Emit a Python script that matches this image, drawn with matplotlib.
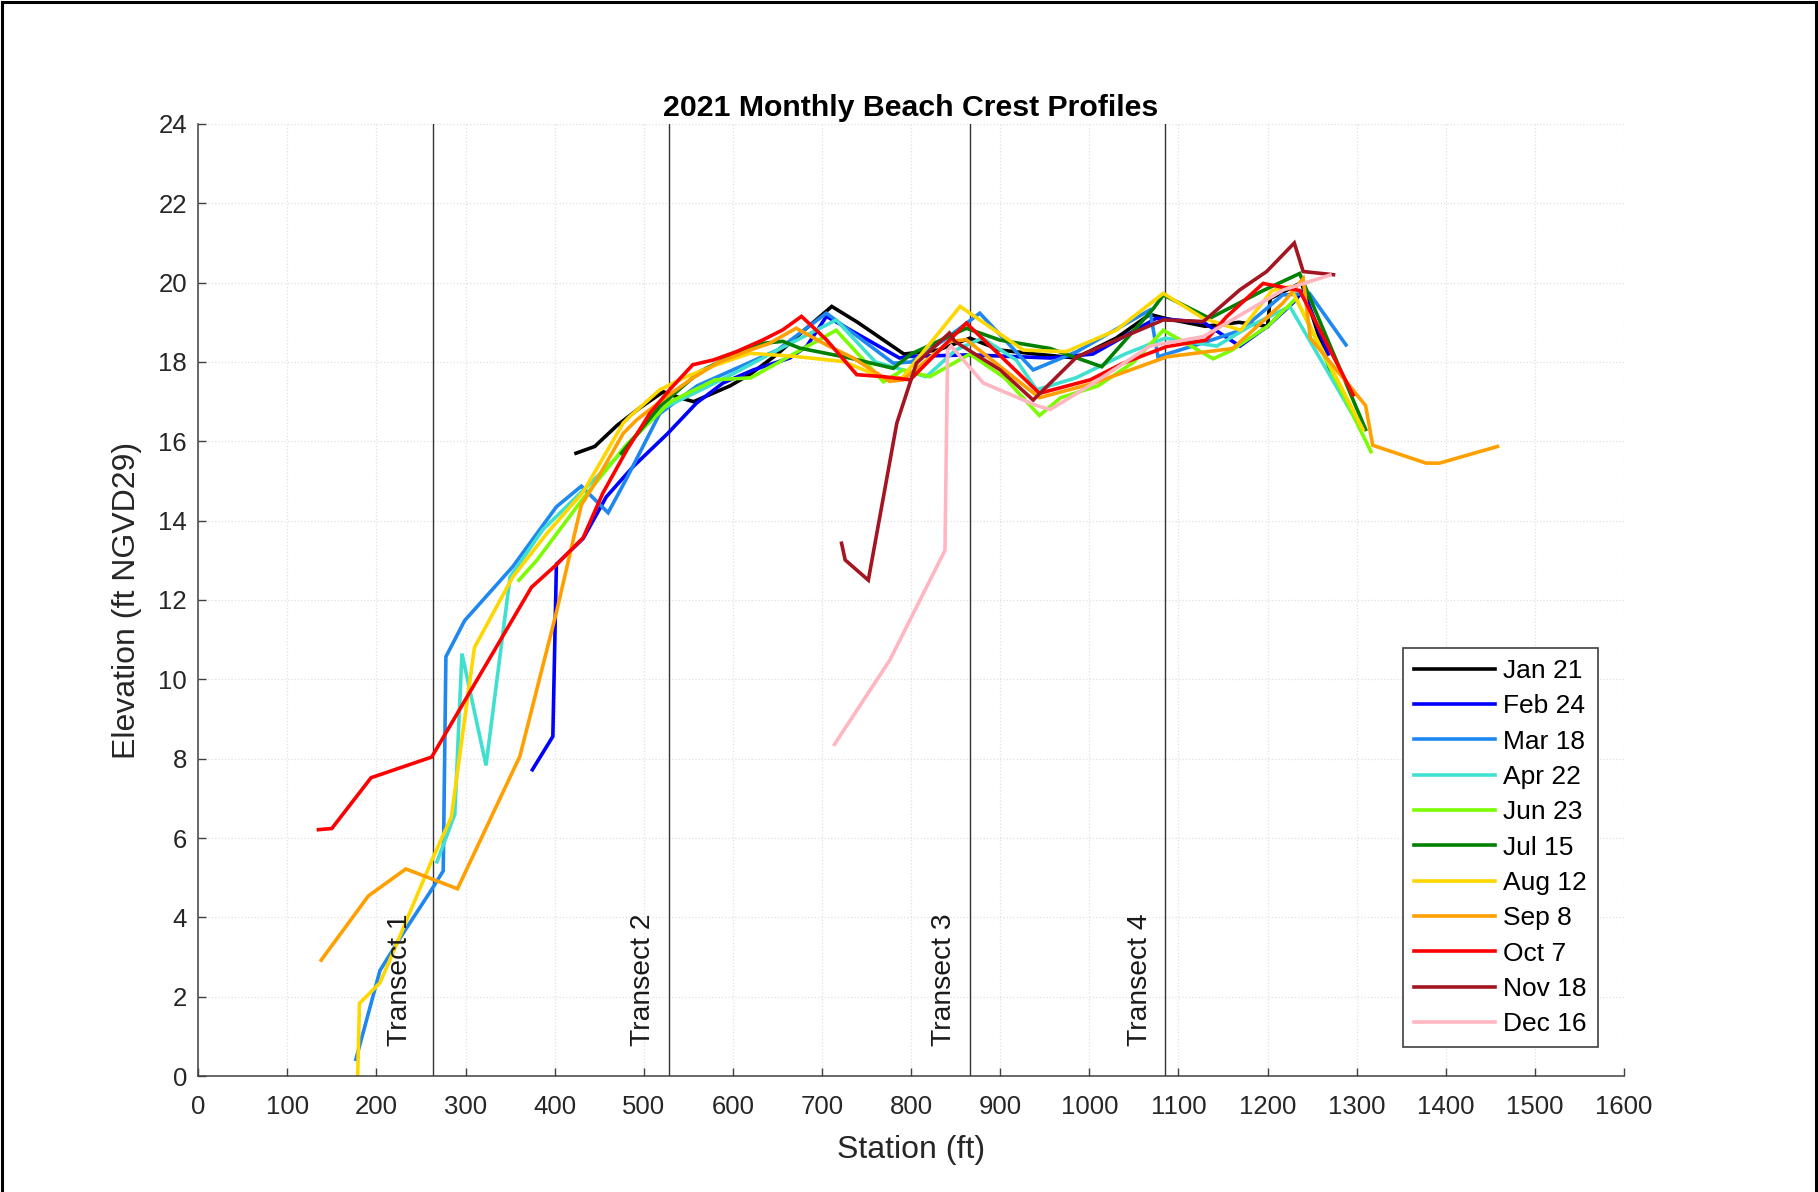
import matplotlib
matplotlib.use("Agg")
import matplotlib.pyplot as plt
from matplotlib.patches import Rectangle

plt.rcParams['font.family'] = ['Liberation Sans', 'DejaVu Sans']

# survey dates shown in the legend
labels = ['Jan 21', 'Feb 24', 'Mar 18', 'Apr 22', 'Jun 23', 'Jul 15',
          'Aug 12', 'Sep 8', 'Oct 7', 'Nov 18', 'Dec 16']
colors = ['#000000', '#0000ff', '#1e88f0', '#40e0d0', '#7cfc00', '#008000',
          '#ffd700', '#ffa000', '#ff0000', '#a31621', '#ffb6c1']

# station (ft) / elevation (ft NGVD29) per survey
jan_sta = [424, 445, 470, 496, 522, 540, 556, 597, 620, 650, 680, 711, 740, 792, 830, 866,
           900, 940, 985, 1030, 1068, 1085, 1130, 1168, 1200, 1203, 1238, 1270]
jan_elev = [15.7, 15.87, 16.4, 16.85, 17.25, 17.1, 17.0, 17.4, 17.7, 18.2, 18.8, 19.4, 19.0,
            18.2, 18.3, 18.6, 18.3, 18.2, 18.1, 18.6, 19.2, 19.1, 18.9, 19.0, 18.9, 19.6, 20.0, 17.8]

feb_sta = [375, 398, 402, 432, 458, 488, 527, 559, 589, 623, 664, 683, 705, 787, 798, 866,
           956, 1004, 1075, 1128, 1169, 1200, 1229, 1240, 1268]
feb_elev = [7.72, 8.56, 12.9, 13.55, 14.6, 15.36, 16.2, 16.96, 17.47, 17.8, 18.1, 18.4, 19.15,
            18.1, 18.14, 18.18, 18.1, 18.2, 19.1, 19.0, 18.4, 18.9, 19.5, 19.8, 18.2]

mar_sta = [177, 204, 230, 262, 275, 278, 299, 353, 402, 430, 460, 480, 518, 560, 600, 650,
           705, 780, 800, 840, 877, 937, 986, 1068, 1077, 1130, 1170, 1217, 1247, 1288]
mar_elev = [0.42, 2.66, 3.6, 4.7, 5.17, 10.57, 11.48, 12.84, 14.35, 14.87, 14.2, 15.03, 16.7,
            17.4, 17.8, 18.3, 19.23, 17.97, 18.0, 18.6, 19.23, 17.8, 18.26, 19.31, 18.13, 18.5,
            18.8, 19.69, 19.73, 18.43]

apr_sta = [268, 288, 296, 323, 350, 387, 430, 470, 518, 560, 600, 650, 716, 760, 817, 850,
           880, 918, 941, 985, 1040, 1085, 1143, 1180, 1225, 1300]
apr_elev = [5.4, 6.6, 10.65, 7.83, 12.58, 13.78, 14.72, 15.6, 16.8, 17.25, 17.7, 18.3, 19.06,
            18.0, 17.63, 18.3, 18.6, 18.05, 17.3, 17.6, 18.2, 18.6, 18.4, 18.9, 19.4, 16.5]

jun_sta = [360, 380, 400, 430, 480, 530, 580, 620, 660, 716, 769, 791, 821, 866, 905, 944,
           968, 1010, 1050, 1083, 1139, 1160, 1200, 1232, 1316]
jun_elev = [12.5, 13.0, 13.6, 14.5, 15.9, 17.0, 17.55, 17.6, 18.1, 18.8, 17.5, 17.8, 17.63,
            18.2, 17.6, 16.65, 17.1, 17.4, 18.0, 18.8, 18.08, 18.3, 18.9, 19.6, 15.74]

jul_sta = [475, 518, 563, 597, 634, 656, 675, 731, 780, 800, 862, 900, 956, 1014, 1072, 1083,
           1135, 1195, 1236, 1310]
jul_elev = [15.7, 16.88, 17.76, 18.14, 18.47, 18.52, 18.35, 18.1, 17.84, 18.2, 18.85, 18.55,
            18.34, 17.88, 19.35, 19.69, 19.1, 19.8, 20.23, 16.3]

aug_sta = [179, 181, 204, 215, 262, 284, 310, 353, 391, 432, 477, 484, 518, 548, 582, 619,
           670, 724, 769, 790, 855, 926, 974, 1030, 1083, 1128, 1170, 1205, 1225, 1307]
aug_elev = [0.0, 1.83, 2.35, 2.92, 5.43, 6.52, 10.8, 12.58, 13.67, 14.72, 16.46, 16.62, 17.3,
            17.63, 17.93, 18.22, 18.14, 18.01, 17.6, 17.6, 19.4, 18.3, 18.26, 18.8, 19.73, 19.1,
            18.8, 19.8, 19.9, 16.3]

sep_sta = [138, 191, 233, 291, 361, 402, 430, 443, 477, 492, 526, 552, 582, 619, 641, 671,
           705, 735, 776, 791, 843, 862, 944, 1004, 1087, 1161, 1217, 1240, 1248, 1292, 1310,
           1318, 1378, 1393, 1458]
sep_elev = [2.92, 4.54, 5.22, 4.72, 8.06, 11.69, 14.4, 14.86, 16.2, 16.54, 17.13, 17.55, 17.97,
            18.3, 18.47, 18.85, 18.43, 18.1, 17.51, 17.55, 18.52, 18.56, 17.1, 17.46, 18.13,
            18.34, 19.48, 20.1, 18.6, 17.4, 16.9, 15.9, 15.45, 15.45, 15.87]

oct_sta = [135, 150, 194, 262, 374, 402, 432, 454, 481, 507, 529, 555, 578, 604, 634, 656,
           677, 705, 739, 769, 799, 862, 944, 1001, 1038, 1087, 1131, 1154, 1195, 1236, 1296]
oct_elev = [6.21, 6.24, 7.52, 8.04, 12.32, 12.89, 13.57, 14.69, 15.78, 16.71, 17.3, 17.93,
            18.05, 18.26, 18.56, 18.81, 19.15, 18.56, 17.68, 17.63, 17.55, 18.98, 17.21, 17.55,
            17.97, 18.39, 18.55, 19.14, 19.98, 19.8, 17.17]

nov_sta = [722, 726, 752, 784, 806, 843, 849, 900, 937, 986, 1083, 1128, 1169, 1199, 1230,
           1240, 1274]
nov_elev = [13.43, 13.01, 12.5, 16.46, 17.97, 18.73, 18.52, 17.8, 17.04, 18.13, 19.06, 19.02,
            19.82, 20.28, 21.0, 20.28, 20.2]

dec_sta = [714, 776, 838, 841, 845, 881, 941, 956, 1000, 1068, 1128, 1218, 1270]
dec_elev = [8.36, 10.48, 13.25, 18.3, 18.4, 17.47, 16.9, 16.8, 17.4, 18.4, 18.64, 19.82, 20.19]

stations = [jan_sta, feb_sta, mar_sta, apr_sta, jun_sta, jul_sta,
            aug_sta, sep_sta, oct_sta, nov_sta, dec_sta]
elevations = [jan_elev, feb_elev, mar_elev, apr_elev, jun_elev, jul_elev,
              aug_elev, sep_elev, oct_elev, nov_elev, dec_elev]

transect_names = ['Transect 1', 'Transect 2', 'Transect 3', 'Transect 4']
transect_sta = [263, 528, 866, 1085]

fig = plt.figure(figsize=(18.18, 11.92), dpi=100)
ax = fig.add_axes([0.109, 0.0973, 0.7843, 0.7987])

for sta, elev, lab, col in zip(stations, elevations, labels, colors):
    ax.plot(sta, elev, color=col, lw=2.6, label=lab, solid_joinstyle='miter')

for i, (name, x) in enumerate(zip(transect_names, transect_sta)):
    ax.axvline(x, color='#333333', lw=1.0, zorder=1)
    gap = 22 if i == 0 else 14
    ax.text(x - gap, 0.75, name, rotation=90, ha='right', va='bottom',
            fontsize=20.3, color='#1a1a1a')

ax.set_xlim(0, 1600)
ax.set_ylim(0, 24)
ax.set_xticks(range(0, 1601, 100))
ax.set_yticks(range(0, 25, 2))
ax.grid(True, color='#e0e0e0', ls=':', lw=0.9)
ax.set_axisbelow(True)

for side in ['top', 'right']:
    ax.spines[side].set_visible(False)
for side in ['left', 'bottom']:
    ax.spines[side].set_color('#404040')
    ax.spines[side].set_linewidth(1.1)
ax.tick_params(direction='in', length=6, width=1.0, colors='#404040',
               labelcolor='#262626', labelsize=18.5)
ax.tick_params(axis='x', pad=14)
ax.tick_params(axis='y', pad=8)

ax.set_title('2021 Monthly Beach Crest Profiles', fontsize=21.8, fontweight='bold', pad=6)
ax.set_xlabel('Station (ft)', fontsize=23, color='#262626', labelpad=11)
ax.set_ylabel('Elevation (ft NGVD29)', fontsize=23, color='#262626', labelpad=12)

leg = ax.legend(loc='lower right', bbox_to_anchor=(0.9815, 0.0305), borderaxespad=0,
                fontsize=19, handlelength=3.1, handletextpad=0.3, labelspacing=0.43,
                borderpad=0.4, fancybox=False, framealpha=1)
leg.get_frame().set_edgecolor('#404040')
leg.get_frame().set_linewidth(1.2)

# outer frame around the figure
fig.patches.append(Rectangle((0.0012, -0.05), 0.9976, 1.048, transform=fig.transFigure,
                             fill=False, edgecolor='black', lw=2.2, clip_on=False))

fig.savefig('out.png', dpi=100)
